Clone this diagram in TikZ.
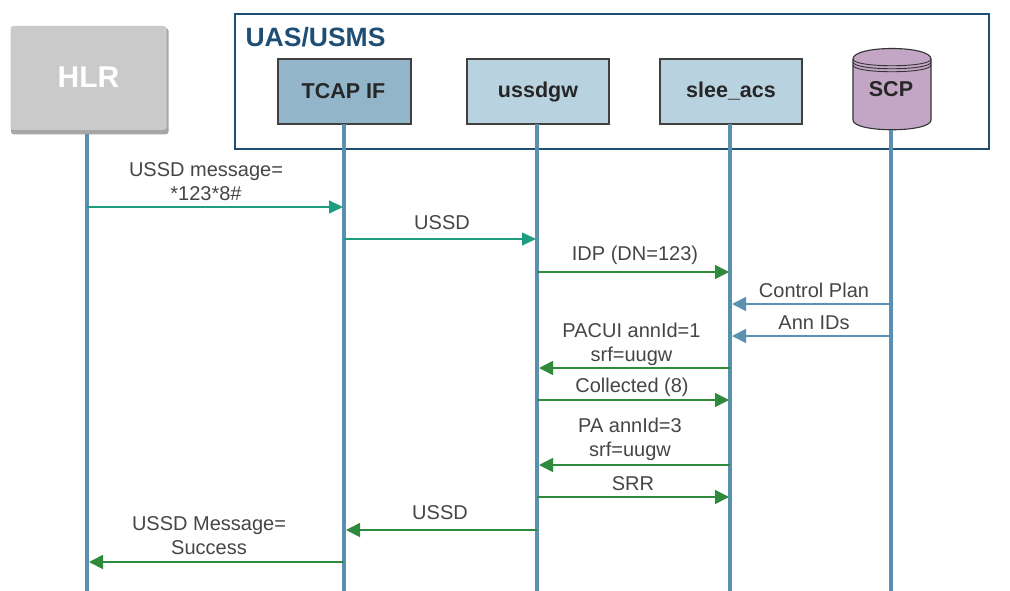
\documentclass[tikz,border=0pt]{standalone}
\usepackage{fontspec}
\setmainfont{Liberation Sans}
\usetikzlibrary{arrows.meta,shapes.geometric,shadows}
\definecolor{lifec}{HTML}{5B8FB0}
\definecolor{framec}{HTML}{1F4E74}
\definecolor{teal}{HTML}{1F9E7F}
\definecolor{grn}{HTML}{2E8B3E}
\definecolor{blu}{HTML}{5B93B5}
\definecolor{tcapc}{HTML}{92B5CA}
\definecolor{ltb}{HTML}{B9D2DF}
\definecolor{purp}{HTML}{C3A6C6}
\definecolor{hlrc}{HTML}{CACACA}
\definecolor{txt}{HTML}{454545}
\tikzset{
 x=1pt,y=-1pt,
 life/.style={draw=lifec,line width=4.4pt},
 msgT/.style={draw=teal,line width=1.5pt,-{Triangle[length=14pt,width=13pt,fill=teal]}},
 msgG/.style={draw=grn,line width=1.6pt,-{Triangle[length=14pt,width=14pt,fill=grn]}},
 msgB/.style={draw=blu,line width=1.5pt,-{Triangle[length=14pt,width=14pt,fill=blu]}},
 comp/.style={draw=black!75,line width=1.3pt,minimum width=133pt,minimum height=65pt,inner sep=0pt,font=\fontsize{21.5}{24}\selectfont\bfseries,text=black!85},
 lbl/.style={font=\fontsize{20}{24}\selectfont,text=txt,align=center,inner sep=0pt},
}
\begin{document}
\begin{tikzpicture}
\useasboundingbox (0,0) rectangle (1010,591);
% frame
\node[draw=framec,line width=2.2pt,minimum width=754pt,minimum height=135pt,inner sep=0pt] (frame) at (612,81.5) {};
\node[font=\fontsize{26.5}{28}\selectfont\bfseries,text=framec,inner sep=0pt] (uas) at (315.5,37.5) {UAS/USMS};
% HLR
\fill[black!35,rounded corners=3pt] (11,28) rectangle (168.5,134.5);
\node[fill=hlrc,rounded corners=3pt,minimum width=156pt,minimum height=104pt,inner sep=0pt,font=\fontsize{30}{32}\selectfont\bfseries,text=white] (hlr) at (88.5,78) {\raisebox{2pt}{HLR}};
% components
\node[comp,fill=tcapc] (tcap) at (344.5,91.5) {\kern-2pt TCAP IF};
\node[comp,fill=ltb,minimum width=142pt] (uss) at (538,91.5) {ussdgw};
\node[comp,fill=ltb,minimum width=142pt] (slee) at (731,91.5) {slee\_acs};
% SCP
\fill[purp,draw=black!80,line width=1.1pt] (853,59) -- (853,120) .. controls (853,133) and (931,133) .. (931,120) -- (931,59) .. controls (931,45) and (853,45) .. (853,59) -- cycle;
\draw[black!80,line width=0.9pt] (853,59) .. controls (853,68) and (931,68) .. (931,59);
\draw[black!80,line width=0.9pt] (853,62) .. controls (853,71) and (931,71) .. (931,62);
\draw[black!80,line width=0.9pt] (853,65) .. controls (853,74) and (931,74) .. (931,65);
\node[font=\fontsize{21.5}{24}\selectfont\bfseries,text=black!85,inner sep=0pt] (scp) at (891,89) {SCP};
\coordinate (scpb) at (891,130);
% lifelines
\coordinate (e1) at (87,591); \coordinate (e2) at (344,591); \coordinate (e3) at (537,591);
\coordinate (e4) at (730,591); \coordinate (e5) at (891,591);
\coordinate (s1) at (87,134); \coordinate (s2) at (344,124); \coordinate (s3) at (537,124);
\coordinate (s4) at (730,124);
\draw[life] (s1) -- (e1);
\draw[life] (s2) -- (e2);
\draw[life] (s3) -- (e3);
\draw[life] (s4) -- (e4);
\draw[life] (scpb) -- (e5);
% messages
\draw[msgT] (87,207) -- (343,207);
\node[lbl] (l1) at (206,181.5) {USSD message=\\*123*8\#};
\draw[msgT] (344,239) -- (536,239);
\node[lbl] (l2) at (442,222.5) {USSD};
\draw[msgG] (537,272) -- (729,272);
\node[lbl] (l3) at (635,255) {IDP (DN=123)};
\draw[msgB] (891,304) -- (732,304);
\node[lbl] (l4) at (814,290) {Control Plan};
\draw[msgB] (891,336) -- (732,336);
\node[lbl] (l5) at (814,322.5) {Ann IDs};
\draw[msgG] (730,368) -- (539,368);
\node[lbl] (l6) at (631.5,344) {PACUI annId=1\\srf=uugw};
\draw[msgG] (537,400) -- (729,400);
\node[lbl] (l7) at (632,387) {Collected (8)};
\draw[msgG] (730,465) -- (539,465);
\node[lbl] (l8) at (630,439) {PA annId=3\\srf=uugw};
\draw[msgG] (537,497) -- (729,497);
\node[lbl] (l9) at (633,483.5) {SRR};
\draw[msgG] (537,530) -- (346,530);
\node[lbl] (l10) at (440,512.5) {USSD};
\draw[msgG] (344,562) -- (89,562);
\node[lbl] (l11) at (209,535.5) {USSD Message=\\Success};
\end{tikzpicture}
\end{document}
